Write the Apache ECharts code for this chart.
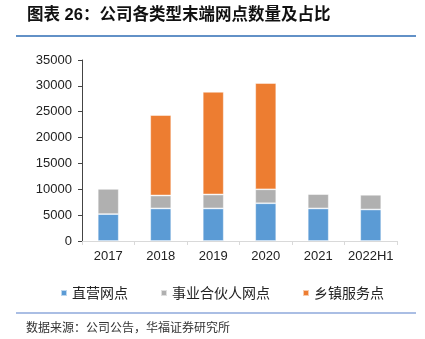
<!DOCTYPE html>
<html>
<head>
<meta charset="utf-8">
<script src="https://cdn.jsdelivr.net/npm/echarts@6/dist/echarts.min.js"></script>
<style>
html,body{margin:0;padding:0;background:#fff;}
#main{width:425px;height:339px;}
</style>
</head>
<body>
<div id="main"></div>
<script>
var categories = ['2017', '2018', '2019', '2020', '2021', '2022H1'];
var directOutlets = [5200, 6300, 6300, 7300, 6300, 6100];
var partnerOutlets = [4900, 2500, 2700, 2700, 2800, 2850];
var townshipPoints = [0, 15550, 19850, 20550, 0, 0];
var seriesNames = ['直营网点', '事业合伙人网点', '乡镇服务点'];
var titleText = '图表 26：公司各类型末端网点数量及占比';
var sourceText = '数据来源：公司公告，华福证券研究所';

var FONT = '"Liberation Sans", Arial, "Noto Sans CJK SC", sans-serif';
var chart = echarts.init(document.getElementById('main'), null, {renderer: 'canvas'});
var barStyle = function (c) {
  return { color: c, borderColor: 'rgba(255,255,255,0.6)', borderWidth: 0.8 };
};
chart.setOption({
  animation: false,
  backgroundColor: '#fff',
  grid: { left: 82, right: 28, top: 60, bottom: 98, containLabel: false },
  legend: {
    data: seriesNames,
    top: 281,
    left: 55,
    icon: 'rect',
    itemWidth: 6,
    itemHeight: 6,
    itemGap: 32,
    textStyle: { fontFamily: '"Noto Sans CJK SC", sans-serif', fontSize: 14, color: '#222' }
  },
  xAxis: {
    type: 'category',
    data: categories,
    axisLine: { lineStyle: { color: '#d9d9d9', width: 1 } },
    axisTick: { show: true, alignWithLabel: false, length: 4, lineStyle: { color: '#d9d9d9' } },
    axisLabel: { interval: 0, fontFamily: FONT, fontSize: 13, color: '#222', margin: 9 }
  },
  yAxis: {
    type: 'value',
    min: 0,
    max: 35000,
    interval: 5000,
    splitLine: { show: false },
    axisLine: { show: true, lineStyle: { color: '#444', width: 1 } },
    axisTick: { show: true, length: 4, lineStyle: { color: '#444' } },
    axisLabel: { formatter: function (v) { return String(v); }, fontFamily: FONT, fontSize: 13, color: '#222', margin: 10 }
  },
  series: [
    { name: seriesNames[0], type: 'bar', stack: 'total', data: directOutlets, barWidth: '40%', itemStyle: barStyle('#5b9bd5') },
    { name: seriesNames[1], type: 'bar', stack: 'total', data: partnerOutlets, barWidth: '40%', itemStyle: barStyle('#b0b0b0') },
    { name: seriesNames[2], type: 'bar', stack: 'total', data: townshipPoints, barWidth: '40%', itemStyle: barStyle('#ed7d31') }
  ],
  graphic: [
    { type: 'text', left: 27, top: 7, style: { text: titleText, font: 'bold 16.5px "Liberation Sans", "Noto Sans CJK SC", sans-serif', fill: '#111' } },
    { type: 'line', shape: { x1: 16, y1: 36, x2: 416, y2: 36 }, style: { stroke: '#2e6db4', lineWidth: 1.5 } },
    { type: 'line', shape: { x1: 16, y1: 313, x2: 416, y2: 313 }, style: { stroke: '#8ea9db', lineWidth: 1.5 } },
    { type: 'text', left: 26, top: 321, style: { text: sourceText, font: '12px "Noto Sans CJK SC", sans-serif', fill: '#333' } }
  ]
});
</script>
</body>
</html>
